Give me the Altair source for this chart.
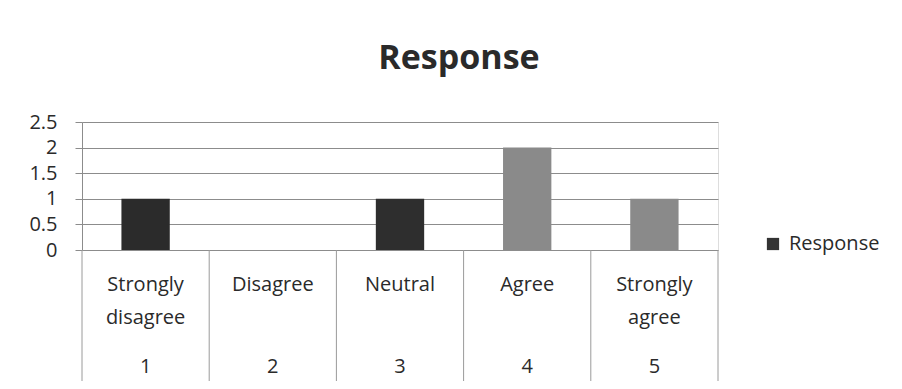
import altair as alt
import pandas as pd

# --- data ---
categories = ["Strongly disagree", "Disagree", "Neutral", "Agree", "Strongly agree"]
codes = ["1", "2", "3", "4", "5"]
values = [1, 0, 1, 2, 1]
series_name = "Response"
y_ticks = [0, 0.5, 1, 1.5, 2, 2.5]

# --- styles ---
bar_colors = ["#2b2b2b", "#2b2b2b", "#2e2e2e", "#8a8a8a", "#8a8a8a"]
FONT = "Open Sans"
TEXT = "#2a2a2a"
GRID = "#8c8c8c"

df = pd.DataFrame({"category": categories, "code": codes, "value": values,
                   "series": [series_name] * len(categories)})
edge_df = pd.DataFrame({"category": [categories[-1]], "value": [0]})
legend_df = pd.DataFrame({"series": [series_name], "category": [categories[0]], "value": [0]})

xscale = alt.Scale(domain=categories, paddingInner=0, paddingOuter=0)
yscale = alt.Scale(domain=[0, 2.5], nice=False)

x_axis = alt.Axis(title=None, ticks=False, domain=False, grid=False, labelAngle=0,
                  labelExpr="split(datum.label, ' ')", labelLineHeight=33,
                  labelFontSize=20, labelFont=FONT, labelColor=TEXT, labelPadding=24,
                  labelBaseline="top")
y_axis = alt.Axis(title=None, values=y_ticks, format=".1~f", labelOverlap=False,
                  labelFontSize=20, labelFont=FONT, labelColor=TEXT, labelPadding=18,
                  tickSize=7, tickColor=GRID, domainColor=GRID, gridColor=GRID,
                  gridWidth=1)

X = dict(field="category", type="nominal", scale=xscale, axis=x_axis, sort=categories)

bars = alt.Chart(df).mark_bar(width=alt.RelativeBandSize(0.38)).encode(
    x=alt.X(**X),
    y=alt.Y("value:Q", scale=yscale, axis=y_axis),
    color=alt.Color("category:N", scale=alt.Scale(domain=categories, range=bar_colors),
                    legend=None),
)

seps = alt.Chart(df).mark_rule(color="#9a9a9a", strokeWidth=1).encode(
    x=alt.X(bandPosition=0, **X),
    y=alt.value(128), y2=alt.value(263),
)
sep_end = alt.Chart(edge_df).mark_rule(color="#9a9a9a", strokeWidth=1).encode(
    x=alt.X(bandPosition=1, **X),
    y=alt.value(128), y2=alt.value(263),
)

nums = alt.Chart(df).mark_text(fontSize=20, font=FONT, color=TEXT, baseline="middle").encode(
    x=alt.X(**X),
    y=alt.value(245),
    text="code:N",
)

legend_layer = alt.Chart(legend_df).mark_square(opacity=0, size=1).encode(
    x=alt.X(**X),
    y=alt.Y("value:Q", scale=yscale, axis=y_axis),
    color=alt.Color("series:N", scale=alt.Scale(domain=[series_name], range=["#333333"]),
                    legend=alt.Legend(title=None, orient="none", legendX=681, legendY=112,
                                      symbolType="square", symbolSize=150, symbolOpacity=1,
                                      symbolStrokeWidth=0, labelFontSize=20, labelFont=FONT,
                                      labelColor=TEXT, labelOffset=6)),
)

chart = alt.layer(bars, seps, sep_end, nums, legend_layer).resolve_scale(
    color="independent"
).properties(
    width=636, height=128,
    autosize=alt.AutoSizeParams(type="none"),
    padding={"left": 74, "top": 114, "right": 176, "bottom": 131},
    title=alt.TitleParams("Response", font=FONT, fontSize=34, fontWeight="bold",
                          color=TEXT, anchor="middle", dx=59, offset=9,
                          baseline="alphabetic"),
).configure_view(stroke=None).configure(background="white")

chart.save("out.html", embed_options={"renderer": "svg", "actions": False})
